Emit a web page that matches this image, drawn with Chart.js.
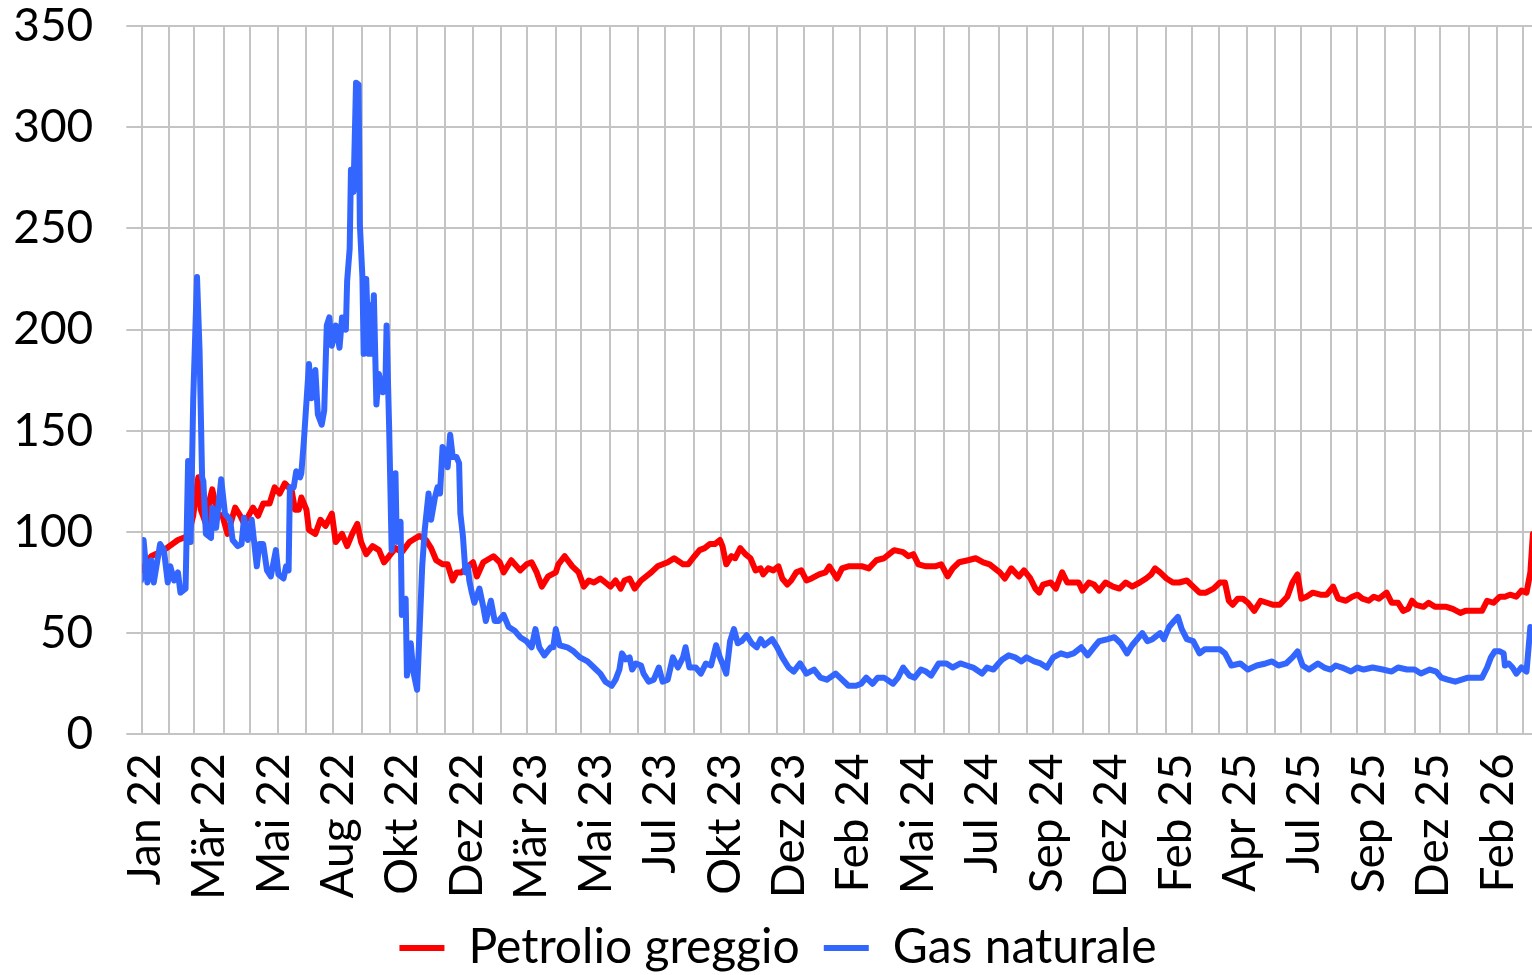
<!DOCTYPE html>
<html>
<head>
<meta charset="utf-8">
<script src="https://cdn.jsdelivr.net/npm/chart.js@4/dist/chart.umd.min.js"></script>
<style>
html,body{margin:0;padding:0;background:#fff;}
canvas{display:block;}
</style>
</head>
<body>
<canvas id="c" width="1532" height="975" style="width:1532px;height:975px"></canvas>
<script>
// ---- tick labels (every 51 trading days) ----
const tickLabels = ['Jan 22','Mär 22','Mai 22','Aug 22','Okt 22','Dez 22','Mär 23','Mai 23','Jul 23','Okt 23','Dez 23',
  'Feb 24','Mai 24','Jul 24','Sep 24','Dez 24','Feb 25','Apr 25','Jul 25','Sep 25','Dez 25','Feb 26'];
const LABEL_STEP = 51;
const seriesNames = ['Petrolio greggio', 'Gas naturale'];

// ---- Gas naturale: trading-day index (0 = 3 Jan 2022) and value ----
const gasDays = [
  -1,1,4,7,9,14,17,20,22,25,
  28,30,34,36,38,40,43,45,47,48,
  50,54,55,58,62,65,69,71,75,78,
  80,83,86,90,92,95,98,101,105,107,
  111,113,115,116,119,121,122,124,125,127,
  129,131,133,136,138,141,143,145,147,149,
  152,155,157,160,161,163,164,166,168,170,
  171,173,174,176,178,179,180,182,184,186,
  189,191,192,194,196,199,200,203,204,207,
  208,211,213,216,220,222,225,227,230,232,
  234,236,238,240,242,244,247,249,250,252,
  254,256,257,259,261,265,268,270,274,277,
  280,284,288,293,297,302,306,309,312,316,
  321,323,325,328,334,339,344,350,355,360,
  364,369,372,375,377,380,383,385,388,392,
  394,398,402,406,409,413,417,421,425,427,
  430,435,439,443,447,451,454,456,459,462,
  465,468,471,475,479,483,486,489,495,499,
  503,508,512,517,522,528,533,538,545,550,
  555,561,565,569,574,578,583,590,594,598,
  603,607,612,616,620,626,632,637,643,648,
  653,660,664,669,673,676,681,686,691,695,
  701,706,711,716,722,727,732,738,743,748,
  752,759,764,769,774,778,786,790,794,800,
  803,807,811,814,817,821,826,831,835,842,
  847,851,856,863,869,876,883,888,893,899,
  904,908,912,917,924,929,934,938,943,950,
  955,960,967,975,982,987,994,1000,1005,1012,
  1017,1021,1026,1032,1037,1042,1048,1053,1057,1060,
  1063,1067,1070,1071,1074,1077,1080,1084,1088,1091,
  1093,1095,1097
];
const gasVals = [
  76,96,75,86,75,94,91,75,83,76,
  80,70,72,135,95,165,226,190,127,125,
  99,97,112,102,126,109,106,96,93,94,
  107,96,106,83,94,94,81,78,91,79,
  77,83,81,122,122,130,128,127,129,145,
  164,183,166,180,158,153,160,202,206,192,
  202,191,206,200,224,240,279,268,322,321,
  252,226,188,225,188,212,188,217,163,178,
  169,170,202,152,91,129,95,105,59,67,
  29,45,31,22,83,101,119,106,117,122,
  119,142,140,132,148,137,137,134,109,98,
  80,83,76,70,65,72,63,56,66,56,
  56,59,53,51,48,46,43,52,43,39,
  43,43,52,44,43,41,38,36,33,30,
  26,24,27,32,40,37,38,32,35,34,
  30,26,27,33,26,27,38,33,38,43,
  33,33,30,35,34,44,38,35,30,46,
  52,45,46,49,45,43,47,44,47,43,
  38,33,31,35,30,32,28,27,30,27,
  24,24,25,28,25,28,28,25,28,33,
  29,28,32,31,29,35,35,33,35,34,
  33,30,33,32,35,37,39,38,36,38,
  36,35,33,38,40,39,40,43,39,43,
  46,47,48,45,40,44,50,46,47,50,
  47,53,56,58,52,47,46,40,42,42,
  42,40,34,35,32,34,35,36,34,35,
  38,41,34,32,35,33,32,34,33,31,
  33,32,33,32,31,33,32,32,30,32,
  31,28,27,26,27,28,28,28,33,38,
  41,41,40,34,35,33,30,33,31,53,
  50,56,48
];

// ---- Petrolio greggio ----
const oilDays = [
  -1,7,17,28,36,40,44,46,50,53,
  55,59,63,67,73,77,80,87,91,95,
  100,104,108,112,115,117,120,123,125,129,
  131,136,140,144,149,152,157,161,165,169,
  172,176,181,186,190,194,199,204,210,215,
  218,223,227,231,236,240,244,247,251,256,
  260,263,268,276,281,284,290,297,302,306,
  310,314,319,325,327,332,338,343,347,351,
  355,360,364,368,372,376,379,383,387,392,
  400,405,413,418,425,429,434,438,442,446,
  450,454,456,459,463,466,470,474,478,482,
  486,488,492,496,500,503,507,510,514,518,
  522,526,532,537,540,544,546,550,555,561,
  566,571,577,583,587,591,598,602,606,610,
  616,623,628,633,637,642,649,655,661,666,
  670,674,678,683,689,693,698,702,705,708,
  714,718,723,727,732,736,739,744,748,752,
  757,763,768,773,778,784,789,793,796,800,
  805,810,815,821,826,831,836,842,847,851,
  854,857,861,865,869,874,879,884,889,894,
  900,904,908,911,915,920,926,931,936,940,
  946,951,955,959,964,968,972,978,982,987,
  991,995,998,1001,1007,1011,1016,1020,1025,1030,
  1036,1040,1044,1049,1053,1057,1062,1067,1071,1075,
  1080,1084,1088,1091,1093,1094,1096,1097
];
const oilVals = [
  81,88,91,96,98,108,127,111,104,116,
  121,109,108,99,112,108,104,112,108,114,
  114,122,119,124,122,122,111,111,117,111,
  101,99,106,103,109,95,99,93,99,104,
  95,89,93,91,85,88,92,90,95,97,
  98,96,92,86,84,84,76,80,80,83,
  85,78,85,88,85,80,86,81,84,85,
  80,73,78,80,84,88,83,80,73,76,
  75,77,75,73,76,72,76,77,72,76,
  80,83,85,87,84,84,88,91,92,94,
  94,96,93,84,88,87,92,89,87,81,
  82,79,82,81,83,77,74,76,80,81,
  76,77,79,80,83,79,77,82,83,83,
  83,82,86,87,89,91,90,88,89,84,
  83,83,84,78,82,85,86,87,85,84,
  82,80,77,82,78,81,77,72,70,74,
  75,72,80,75,75,75,71,75,74,71,
  75,73,72,75,73,75,77,79,82,80,
  77,75,75,76,73,70,70,72,75,75,
  66,64,67,67,65,61,66,65,64,64,
  68,75,79,67,68,70,69,69,73,67,
  66,68,69,67,66,68,67,70,65,65,
  61,62,66,64,63,65,63,63,63,62,
  60,61,61,61,61,66,65,68,68,69,
  68,71,70,80,99,92,100,102
];

// ---- style ----
const FONT = 'Lato';
const GRID = '#c4c4c4';
const RED = '#ff0000';
const BLUE = '#3366ff';

// first weekday of each month, counted in weekdays from 3 Jan 2022
function monthStarts(maxIdx) {
  const out = [];
  const d = new Date(Date.UTC(2022, 0, 3));
  let i = 0, prev = null;
  while (i <= maxIdx) {
    const wd = d.getUTCDay();
    if (wd !== 0 && wd !== 6) {
      if (d.getUTCMonth() !== prev) { out.push(i); prev = d.getUTCMonth(); }
      i++;
    }
    d.setUTCDate(d.getUTCDate() + 1);
  }
  return out;
}
const GRID_MAX = 1092.3;
const gridTicks = monthStarts(GRID_MAX);

const toPts = (xs, ys) => xs.map((x, i) => ({x, y: ys[i]}));
const noPad = s => { s.paddingLeft = 0; s.paddingRight = 0; s.paddingTop = 0; s.paddingBottom = 0; };

const legendShift = {
  id: 'legendShift',
  afterLayout(chart) { if (chart.legend) { chart.legend.left += 12; chart.legend.right += 12; } }
};

new Chart(document.getElementById('c'), {
  type: 'line',
  plugins: [legendShift],
  data: {
    datasets: [
      { label: seriesNames[0], data: toPts(oilDays, oilVals), borderColor: RED, backgroundColor: RED,
        borderWidth: 6, pointRadius: 0, tension: 0, borderJoinStyle: 'round', borderCapStyle: 'round', order: 2 },
      { label: seriesNames[1], data: toPts(gasDays, gasVals), borderColor: BLUE, backgroundColor: BLUE,
        borderWidth: 6, pointRadius: 0, tension: 0, borderJoinStyle: 'round', borderCapStyle: 'round', order: 1 }
    ]
  },
  options: {
    responsive: false,
    animation: false,
    devicePixelRatio: 1,
    layout: { padding: { top: 26, bottom: -7, left: 0, right: 0 } },
    plugins: {
      tooltip: { enabled: false },
      legend: {
        position: 'bottom',
        labels: {
          usePointStyle: true, pointStyle: 'line', pointStyleWidth: 45,
          font: { family: FONT, size: 48 }, color: '#000', padding: 24,
          sort: (a, b) => a.datasetIndex - b.datasetIndex
        }
      }
    },
    scales: {
      xg: {
        type: 'linear', position: 'bottom', min: 0, max: GRID_MAX, bounds: 'data',
        afterBuildTicks: s => { s.ticks = gridTicks.map(v => ({value: v})); },
        afterFit: s => { s.height = 0; noPad(s); },
        ticks: { display: false },
        grid: { color: GRID, lineWidth: 2, drawTicks: false },
        border: { display: false }
      },
      x: {
        type: 'linear', position: 'bottom', min: -2, max: 1098, bounds: 'data',
        afterBuildTicks: s => { s.ticks = tickLabels.map((t, k) => ({value: k * LABEL_STEP})); },
        afterFit: s => { s.height = 165.7; noPad(s); },
        ticks: {
          autoSkip: false, minRotation: 90, maxRotation: 90, padding: 19,
          font: { family: FONT, size: 46 }, color: '#000',
          callback: (v, i) => tickLabels[i]
        },
        grid: { display: false, drawTicks: false },
        border: { display: false }
      },
      y: {
        min: 0, max: 350,
        afterFit: s => { s.width = 142.3; noPad(s); },
        ticks: { stepSize: 50, padding: 33, font: { family: FONT, size: 46, lineHeight: 1 }, color: '#000' },
        grid: { color: GRID, lineWidth: 2, tickLength: 16, drawTicks: true },
        border: { display: true, color: GRID, width: 2 }
      }
    }
  }
});
</script>
</body>
</html>
